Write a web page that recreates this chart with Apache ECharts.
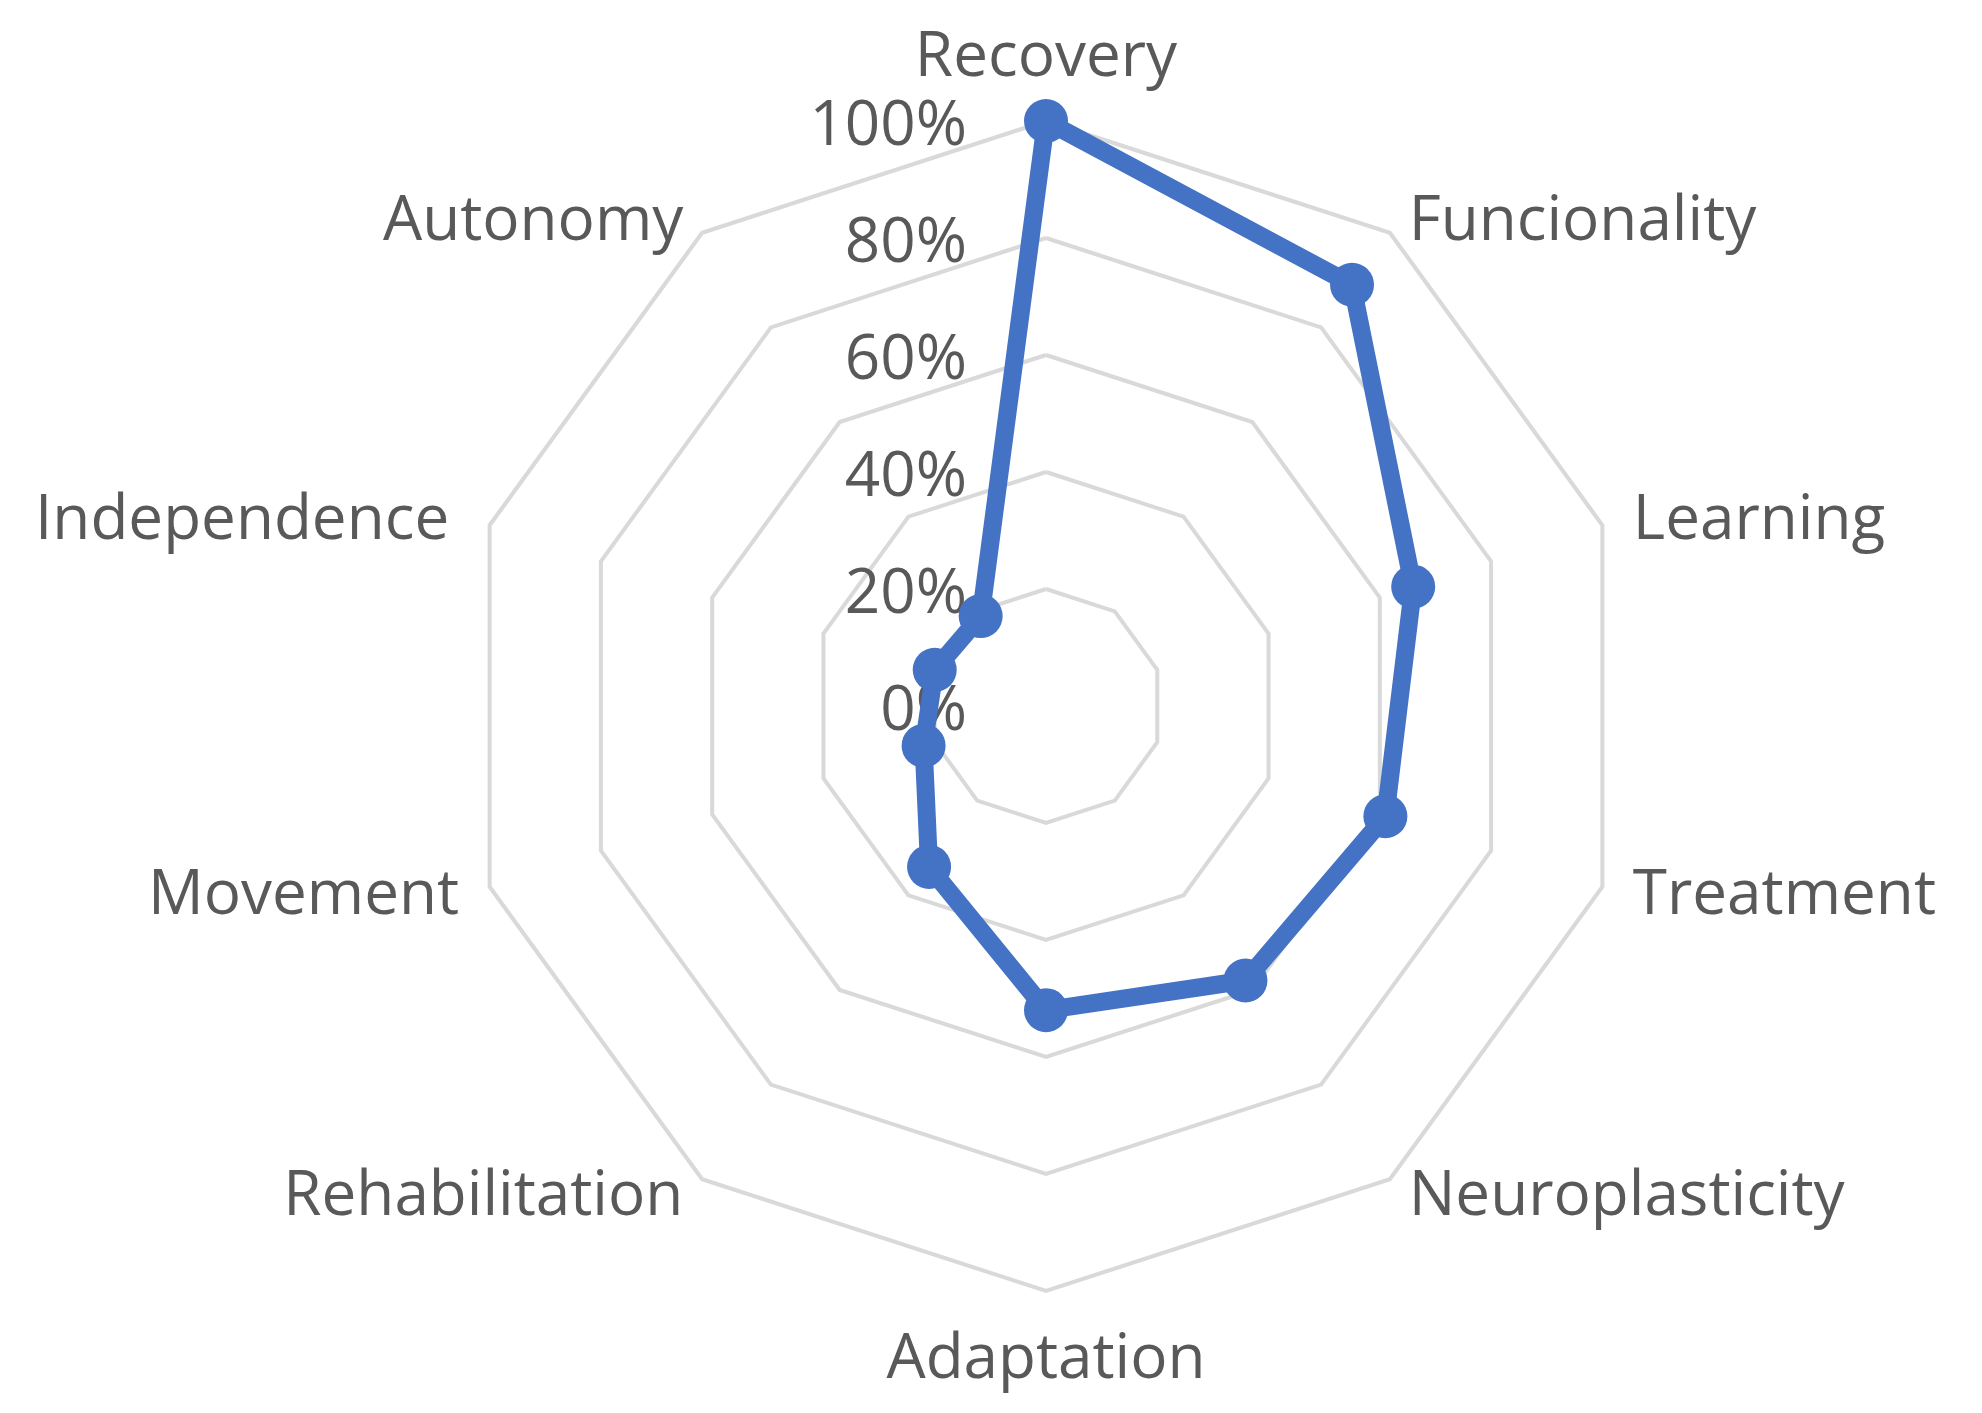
<!DOCTYPE html>
<html><head><meta charset="utf-8">
<script src="https://cdn.jsdelivr.net/npm/echarts@6/dist/echarts.min.js"></script>
<style>html,body{margin:0;padding:0;background:#fff}#c{width:1982px;height:1413px}</style>
</head><body><div id="c"></div>
<script>
const categories = ['Recovery','Funcionality','Learning','Treatment','Neuroplasticity','Adaptation','Rehabilitation','Movement','Independence','Autonomy'];
const values = [100, 89, 66, 61, 58, 52, 34, 22, 20, 19];
const axisMin = 0;
const axisMax = 100;
const tickCount = 5;

// small per-name vertical nudges (px, + = down) to match the reference label placement
const nameShift = {
  'Funcionality': 16, 'Autonomy': 16,
  'Learning': 6, 'Independence': 6,
  'Neuroplasticity': -8, 'Rehabilitation': -8
};

function shiftStyle(s) {
  // a thin line box anchored at top/bottom moves the glyph centre by s
  return s > 0 ? { verticalAlign: 'top', lineHeight: 2 * s }
               : { verticalAlign: 'bottom', lineHeight: -2 * s };
}

// ECharts places indicators counter-clockwise; the reference runs clockwise.
const order = categories.map((_, i) => (categories.length - i) % categories.length);
const indicator = order.map((idx, k) => {
  const name = categories[idx];
  const o = { name: name, min: axisMin, max: axisMax };
  if (nameShift[name]) o.nameTextStyle = shiftStyle(nameShift[name]);
  if (name === 'Independence') o.nameTextStyle.padding = [0, 10, 0, 0];
  if (name === 'Adaptation') o.nameTextStyle = { padding: [6, 0, 0, 0] };
  if (k === 0) o.axisLabel = { show: true };
  return o;
});
const seriesData = order.map(idx => values[idx]);

const chart = echarts.init(document.getElementById('c'), null, { renderer: 'canvas' });
chart.setOption({
  animation: false,
  backgroundColor: '#ffffff',
  radar: {
    center: [1046, 706],
    radius: 585,
    startAngle: 90,
    shape: 'polygon',
    splitNumber: tickCount,
    indicator: indicator,
    nameGap: 32,
    axisName: { color: '#595959', fontSize: 62, fontFamily: 'Open Sans' },
    axisLine: { show: false },
    axisTick: { show: false },
    splitLine: { lineStyle: { color: '#d9d9d9', width: 4 } },
    splitArea: { show: false },
    axisLabel: {
      show: false, color: '#595959', fontSize: 62, fontFamily: 'Open Sans',
      margin: 79, verticalAlign: 'top', lineHeight: 12, formatter: v => v + '%'
    }
  },
  series: [{
    type: 'radar',
    symbol: 'circle',
    symbolSize: 44,
    lineStyle: { color: '#4472C4', width: 18 },
    itemStyle: { color: '#4472C4' },
    data: [{ value: seriesData, name: 'Values' }]
  }]
});
</script>
</body></html>
